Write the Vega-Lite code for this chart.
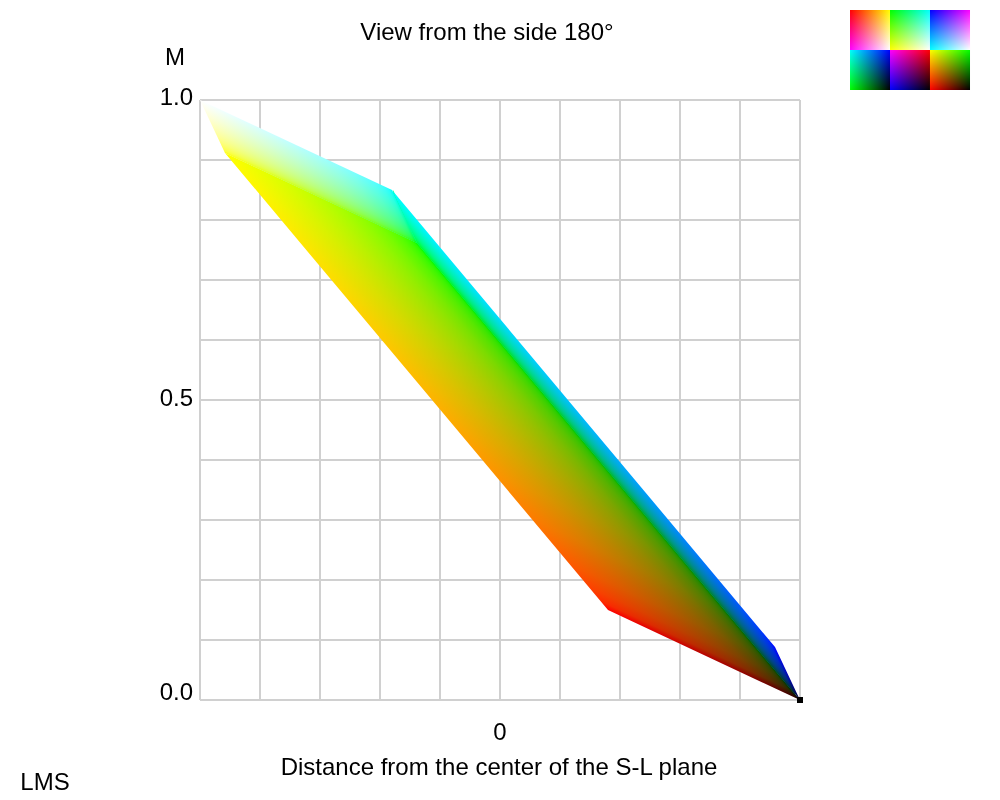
{"$schema":"https://vega.github.io/schema/vega-lite/v6.json","width":600,"height":600,"autosize":"none","padding":{"left":200,"top":100,"right":200,"bottom":100},"background":"white","view":{"stroke":null},
"datasets":{"faces":[
{"face":"S","x":-0.9067,"y":0.9127,"y2":0.906},{"face":"S","x":-0.2767,"y":0.765,"y2":0.7583},{"face":"S","x":0.9833,"y":0.0133,"y2":0.0067},
{"face":"T","x":-0.3567,"y":0.8498,"y2":0.8432},{"face":"T","x":-0.28,"y":0.7685,"y2":0.7618},
{"face":"A","x":-1,"y":1,"y2":1},{"face":"A","x":-0.9167,"y":0.9805,"y2":0.9117},{"face":"A","x":-0.36,"y":0.85,"y2":0.7812},{"face":"A","x":-0.2767,"y":0.7617,"y2":0.7617},
{"face":"B","x":-0.9167,"y":0.9117,"y2":0.9117},{"face":"B","x":-0.2767,"y":0.7617,"y2":0.5298},{"face":"B","x":0.36,"y":0.3818,"y2":0.15},{"face":"B","x":1,"y":0,"y2":0},
{"face":"C","x":-0.36,"y":0.85,"y2":0.85},{"face":"C","x":-0.2767,"y":0.8003,"y2":0.7617},{"face":"C","x":0.9167,"y":0.0883,"y2":0.0497},{"face":"C","x":1,"y":0,"y2":0}],
"cells":[
{"id":"c1","x":1.1667,"x2":1.3,"y":1.15,"y2":1.0833},{"id":"c2","x":1.3,"x2":1.4333,"y":1.15,"y2":1.0833},{"id":"c3","x":1.4333,"x2":1.5667,"y":1.15,"y2":1.0833},
{"id":"c4","x":1.1667,"x2":1.3,"y":1.0833,"y2":1.0167},{"id":"c5","x":1.3,"x2":1.4333,"y":1.0833,"y2":1.0167},{"id":"c6","x":1.4333,"x2":1.5667,"y":1.0833,"y2":1.0167}],
"corner":[{"x":1,"y":0}],
"notes":[{"label":"LMS","x":-1.5167,"y":-0.1383},{"label":"View from the side 180°","x":-0.0433,"y":1.1117}]},
"encoding":{
"x":{"field":"x","type":"quantitative","scale":{"domain":[-1,1],"nice":false,"zero":false},"axis":{"values":[-1,-0.8,-0.6,-0.4,-0.2,0,0.2,0.4,0.6,0.8,1],"labelExpr":"abs(datum.value)<0.001?'0':''","translate":0,"grid":true,"gridColor":"#d0d0d0","gridWidth":2,"domain":false,"ticks":false,"labelFont":"Liberation Sans","labelFontSize":24,"labelColor":"#000","labelPadding":33,"labelBaseline":"middle","labelFlush":false,"labelOverlap":false,"title":"Distance from the center of the S-L plane","titleFont":"Liberation Sans","titleFontSize":24,"titleFontWeight":"normal","titleColor":"#000","titleX":299,"titleY":68,"titleBaseline":"middle"}},
"y":{"field":"y","type":"quantitative","scale":{"domain":[0,1],"nice":false,"zero":false},"axis":{"values":[0,0.1,0.2,0.3,0.4,0.5,0.6,0.7,0.8,0.9,1],"labelExpr":"abs(datum.value)<0.001?'0.0':abs(datum.value-0.5)<0.001?'0.5':abs(datum.value-1)<0.001?'1.0':''","translate":0,"grid":true,"gridColor":"#d0d0d0","gridWidth":2,"domain":false,"ticks":false,"labelFont":"Liberation Sans","labelFontSize":24,"labelColor":"#000","labelPadding":7,"labelBaseline":{"condition":{"test":"datum.value<0.001","value":"alphabetic"},"value":"middle"},"labelOffset":{"condition":[{"test":"datum.value<0.001","value":0},{"test":"datum.value>0.9","value":-2}],"value":-1},"labelFlush":false,"labelOverlap":false,"title":"M","titleFont":"Liberation Sans","titleFontSize":24,"titleFontWeight":"normal","titleColor":"#000","titleAngle":0,"titleAlign":"center","titleBaseline":"middle","titleX":-25,"titleY":-42}}},
"layer":[
{"data":{"name":"faces"},"transform":[{"filter":"datum.face==='S'"}],"mark":{"type":"area","color":{"gradient":"linear","x1":0,"y1":0,"x2":0,"y2":1,"stops":[{"offset":0,"color":"#ffff00"},{"offset":0.167,"color":"#20ff00"},{"offset":0.5,"color":"#10cb00"},{"offset":0.8,"color":"#088700"},{"offset":1,"color":"#000000"}]}},"encoding":{"y2":{"field":"y2"}}},
{"data":{"name":"faces"},"transform":[{"filter":"datum.face==='T'"}],"mark":{"type":"area","color":"#00ff66"},"encoding":{"y2":{"field":"y2"}}},
{"data":{"name":"faces"},"transform":[{"filter":"datum.face==='B'"}],"mark":{"type":"area","color":{"gradient":"linear","x1":0,"y1":0,"x2":0.124,"y2":-0.0988,"stops":[{"offset":0,"color":"#ffff00"},{"offset":0.1,"color":"#f3ff00"},{"offset":0.2,"color":"#e6ff00"},{"offset":0.3,"color":"#d9ff00"},{"offset":0.4,"color":"#caff00"},{"offset":0.5,"color":"#baff00"},{"offset":0.6,"color":"#a8ff00"},{"offset":0.7,"color":"#94ff00"},{"offset":0.8,"color":"#7bff00"},{"offset":0.9,"color":"#59ff00"},{"offset":0.95,"color":"#41ff00"},{"offset":0.98,"color":"#2bff00"},{"offset":1,"color":"#00ff00"}]}},"encoding":{"y2":{"field":"y2"}}},
{"data":{"name":"faces"},"transform":[{"filter":"datum.face==='B'"}],"mark":{"type":"area","blend":"multiply","color":{"gradient":"linear","x1":0,"y1":0,"x2":-0.2011,"y2":0.4083,"stops":[{"offset":0,"color":"#ffffff"},{"offset":0.1,"color":"#fff3ff"},{"offset":0.2,"color":"#ffe6ff"},{"offset":0.3,"color":"#ffd9ff"},{"offset":0.4,"color":"#ffcaff"},{"offset":0.5,"color":"#ffbaff"},{"offset":0.6,"color":"#ffa8ff"},{"offset":0.7,"color":"#ff94ff"},{"offset":0.8,"color":"#ff7bff"},{"offset":0.9,"color":"#ff59ff"},{"offset":0.95,"color":"#ff41ff"},{"offset":0.98,"color":"#ff2bff"},{"offset":1,"color":"#ff00ff"}]}},"encoding":{"y2":{"field":"y2"}}},
{"data":{"name":"faces"},"transform":[{"filter":"datum.face==='A'"}],"mark":{"type":"area","color":{"gradient":"linear","x1":0,"y1":0,"x2":0.6284,"y2":-0.1953,"stops":[{"offset":0,"color":"#ffffff"},{"offset":0.1,"color":"#f3ffff"},{"offset":0.2,"color":"#e6ffff"},{"offset":0.3,"color":"#d9ffff"},{"offset":0.4,"color":"#caffff"},{"offset":0.5,"color":"#baffff"},{"offset":0.6,"color":"#a8ffff"},{"offset":0.7,"color":"#94ffff"},{"offset":0.8,"color":"#7bffff"},{"offset":0.9,"color":"#59ffff"},{"offset":0.95,"color":"#41ffff"},{"offset":0.98,"color":"#2bffff"},{"offset":1,"color":"#00ffff"}]}},"encoding":{"y2":{"field":"y2"}}},
{"data":{"name":"faces"},"transform":[{"filter":"datum.face==='A'"}],"mark":{"type":"area","blend":"multiply","color":{"gradient":"linear","x1":0,"y1":0,"x2":-0.1363,"y2":0.1917,"stops":[{"offset":0,"color":"#ffffff"},{"offset":0.1,"color":"#fffff3"},{"offset":0.2,"color":"#ffffe6"},{"offset":0.3,"color":"#ffffd9"},{"offset":0.4,"color":"#ffffca"},{"offset":0.5,"color":"#ffffba"},{"offset":0.6,"color":"#ffffa8"},{"offset":0.7,"color":"#ffff94"},{"offset":0.8,"color":"#ffff7b"},{"offset":0.9,"color":"#ffff59"},{"offset":0.95,"color":"#ffff41"},{"offset":0.98,"color":"#ffff2b"},{"offset":1,"color":"#ffff00"}]}},"encoding":{"y2":{"field":"y2"}}},
{"data":{"name":"faces"},"transform":[{"filter":"datum.face==='C'"}],"mark":{"type":"area","color":{"gradient":"linear","x1":0,"y1":0,"x2":0.3041,"y2":-0.1794,"stops":[{"offset":0,"color":"#00ffff"},{"offset":0.1,"color":"#00f3ff"},{"offset":0.2,"color":"#00e6ff"},{"offset":0.3,"color":"#00d9ff"},{"offset":0.4,"color":"#00caff"},{"offset":0.5,"color":"#00baff"},{"offset":0.6,"color":"#00a8ff"},{"offset":0.7,"color":"#0094ff"},{"offset":0.8,"color":"#007bff"},{"offset":0.9,"color":"#0059ff"},{"offset":0.95,"color":"#0041ff"},{"offset":0.98,"color":"#002bff"},{"offset":1,"color":"#0000ff"}]}},"encoding":{"y2":{"field":"y2"}}},
{"data":{"name":"faces"},"transform":[{"filter":"datum.face==='C'"}],"mark":{"type":"area","blend":"multiply","color":{"gradient":"linear","x1":0,"y1":0,"x2":-0.02267,"y2":0.02374,"stops":[{"offset":0,"color":"#ffffff"},{"offset":0.1,"color":"#fffff3"},{"offset":0.2,"color":"#ffffe6"},{"offset":0.3,"color":"#ffffd9"},{"offset":0.4,"color":"#ffffca"},{"offset":0.5,"color":"#ffffba"},{"offset":0.6,"color":"#ffffa8"},{"offset":0.7,"color":"#ffff94"},{"offset":0.8,"color":"#ffff7b"},{"offset":0.9,"color":"#ffff59"},{"offset":0.95,"color":"#ffff41"},{"offset":0.98,"color":"#ffff2b"},{"offset":1,"color":"#ffff00"}]}},"encoding":{"y2":{"field":"y2"}}},
{"data":{"name":"corner"},"mark":{"type":"square","size":36,"color":"#000000","opacity":1,"filled":true}},
{"data":{"name":"cells"},"transform":[{"filter":"datum.id==='c1'"}],"mark":{"type":"rect","color":{"gradient":"linear","x1":0,"y1":0,"x2":1,"y2":0,"stops":[{"offset":0,"color":"#ff0000"},{"offset":1,"color":"#ffff00"}]}},"encoding":{"x2":{"field":"x2"},"y2":{"field":"y2"}}},
{"data":{"name":"cells"},"transform":[{"filter":"datum.id==='c1'"}],"mark":{"type":"rect","blend":"screen","color":{"gradient":"linear","x1":0,"y1":0,"x2":0,"y2":1,"stops":[{"offset":0,"color":"#000000"},{"offset":1,"color":"#0000ff"}]}},"encoding":{"x2":{"field":"x2"},"y2":{"field":"y2"}}},
{"data":{"name":"cells"},"transform":[{"filter":"datum.id==='c2'"}],"mark":{"type":"rect","color":{"gradient":"linear","x1":0,"y1":0,"x2":1,"y2":0,"stops":[{"offset":0,"color":"#00ff00"},{"offset":1,"color":"#00ffff"}]}},"encoding":{"x2":{"field":"x2"},"y2":{"field":"y2"}}},
{"data":{"name":"cells"},"transform":[{"filter":"datum.id==='c2'"}],"mark":{"type":"rect","blend":"screen","color":{"gradient":"linear","x1":0,"y1":0,"x2":0,"y2":1,"stops":[{"offset":0,"color":"#000000"},{"offset":1,"color":"#ff0000"}]}},"encoding":{"x2":{"field":"x2"},"y2":{"field":"y2"}}},
{"data":{"name":"cells"},"transform":[{"filter":"datum.id==='c3'"}],"mark":{"type":"rect","color":{"gradient":"linear","x1":0,"y1":0,"x2":1,"y2":0,"stops":[{"offset":0,"color":"#0000ff"},{"offset":1,"color":"#ff00ff"}]}},"encoding":{"x2":{"field":"x2"},"y2":{"field":"y2"}}},
{"data":{"name":"cells"},"transform":[{"filter":"datum.id==='c3'"}],"mark":{"type":"rect","blend":"screen","color":{"gradient":"linear","x1":0,"y1":0,"x2":0,"y2":1,"stops":[{"offset":0,"color":"#000000"},{"offset":1,"color":"#00ff00"}]}},"encoding":{"x2":{"field":"x2"},"y2":{"field":"y2"}}},
{"data":{"name":"cells"},"transform":[{"filter":"datum.id==='c4'"}],"mark":{"type":"rect","color":{"gradient":"linear","x1":0,"y1":0,"x2":1,"y2":0,"stops":[{"offset":0,"color":"#00ff00"},{"offset":1,"color":"#000000"}]}},"encoding":{"x2":{"field":"x2"},"y2":{"field":"y2"}}},
{"data":{"name":"cells"},"transform":[{"filter":"datum.id==='c4'"}],"mark":{"type":"rect","blend":"screen","color":{"gradient":"linear","x1":0,"y1":0,"x2":0,"y2":1,"stops":[{"offset":0,"color":"#0000ff"},{"offset":1,"color":"#000000"}]}},"encoding":{"x2":{"field":"x2"},"y2":{"field":"y2"}}},
{"data":{"name":"cells"},"transform":[{"filter":"datum.id==='c5'"}],"mark":{"type":"rect","color":{"gradient":"linear","x1":0,"y1":0,"x2":1,"y2":0,"stops":[{"offset":0,"color":"#0000ff"},{"offset":1,"color":"#000000"}]}},"encoding":{"x2":{"field":"x2"},"y2":{"field":"y2"}}},
{"data":{"name":"cells"},"transform":[{"filter":"datum.id==='c5'"}],"mark":{"type":"rect","blend":"screen","color":{"gradient":"linear","x1":0,"y1":0,"x2":0,"y2":1,"stops":[{"offset":0,"color":"#ff0000"},{"offset":1,"color":"#000000"}]}},"encoding":{"x2":{"field":"x2"},"y2":{"field":"y2"}}},
{"data":{"name":"cells"},"transform":[{"filter":"datum.id==='c6'"}],"mark":{"type":"rect","color":{"gradient":"linear","x1":0,"y1":0,"x2":1,"y2":0,"stops":[{"offset":0,"color":"#ff0000"},{"offset":1,"color":"#000000"}]}},"encoding":{"x2":{"field":"x2"},"y2":{"field":"y2"}}},
{"data":{"name":"cells"},"transform":[{"filter":"datum.id==='c6'"}],"mark":{"type":"rect","blend":"screen","color":{"gradient":"linear","x1":0,"y1":0,"x2":0,"y2":1,"stops":[{"offset":0,"color":"#00ff00"},{"offset":1,"color":"#000000"}]}},"encoding":{"x2":{"field":"x2"},"y2":{"field":"y2"}}},
{"data":{"name":"notes"},"mark":{"type":"text","font":"Liberation Sans","fontSize":24,"color":"#000","align":"center","baseline":"middle"},"encoding":{"text":{"field":"label"}}}
]}
